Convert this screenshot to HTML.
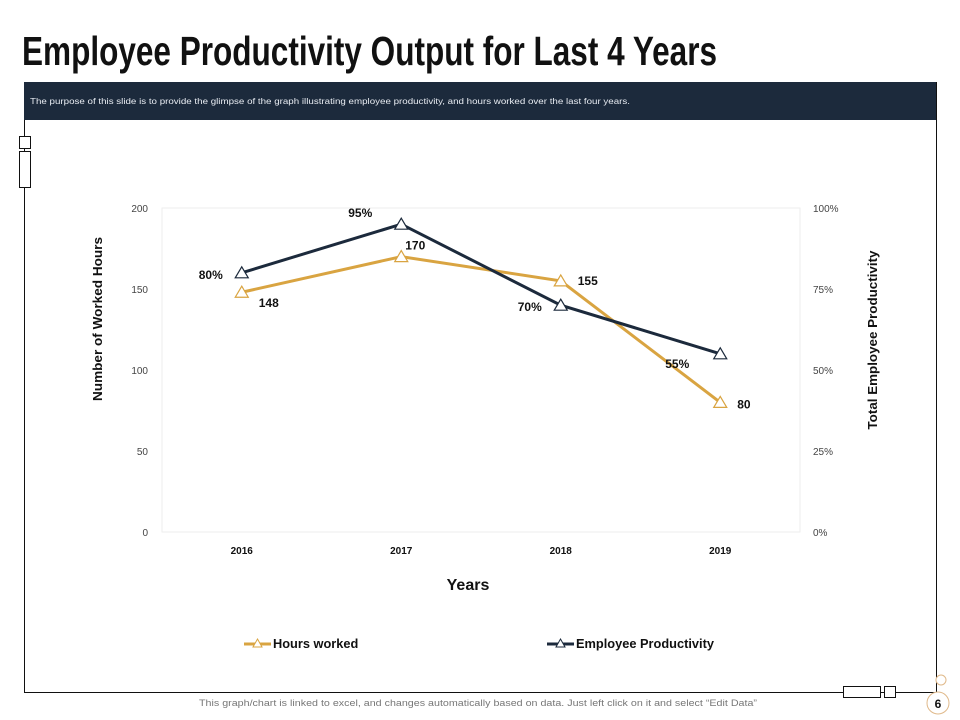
<!DOCTYPE html>
<html><head><meta charset="utf-8"><style>
body{margin:0;background:#fff;font-family:"Liberation Sans",sans-serif}
#root{position:relative;width:960px;height:720px;overflow:hidden;background:#fff}
</style></head><body>
<div id="root">
<svg width="960" height="720" id="svg">
<text x="22" y="65" font-size="41" font-weight="bold" fill="#111" textLength="695" lengthAdjust="spacingAndGlyphs">Employee Productivity Output for Last 4 Years</text>
<rect x="24" y="82" width="912" height="38" fill="#1c2a3c"/>
<text x="30" y="104" font-size="8.6" fill="#e8ecf2" textLength="600" lengthAdjust="spacingAndGlyphs">The purpose of this slide is to provide the glimpse of the graph illustrating employee productivity, and hours worked over the last four years.</text>
<g stroke="#111" stroke-width="1" fill="#fff">
<line x1="24.5" y1="120" x2="24.5" y2="692"/>
<line x1="24" y1="692.5" x2="936" y2="692.5"/>
<line x1="936.5" y1="82" x2="936.5" y2="692"/>
<rect x="19.5" y="136.5" width="11" height="12"/>
<rect x="19.5" y="151.5" width="11" height="36"/>
<rect x="843.5" y="686.5" width="37" height="11"/>
<rect x="884.5" y="686.5" width="11" height="11"/>
</g>
<circle cx="941" cy="680" r="5" fill="#fff" stroke="#e0b98a"/>
<circle cx="938" cy="703" r="11" fill="#fff" stroke="#e0b98a"/>
<text x="938" y="708" font-size="12" font-weight="bold" text-anchor="middle" fill="#111">6</text>
<text x="199" y="706" font-size="9" fill="#777" textLength="558" lengthAdjust="spacingAndGlyphs">This graph/chart is linked to excel, and changes automatically based on data. Just left click on it and select “Edit Data”</text>
<rect x="162" y="208" width="638" height="324" fill="none" stroke="#eeeeee"/>
<text transform="translate(102,319) rotate(-90)" font-size="12.5" font-weight="bold" text-anchor="middle" fill="#111" textLength="164" lengthAdjust="spacingAndGlyphs">Number of Worked Hours</text>
<text transform="translate(877,340) rotate(-90)" font-size="12.5" font-weight="bold" text-anchor="middle" fill="#111" textLength="179" lengthAdjust="spacingAndGlyphs">Total Employee Productivity</text>
<text x="468" y="590" font-size="16" font-weight="bold" text-anchor="middle" fill="#111">Years</text>
<g id="marks"></g>
</svg>
</div>
<script>
const categories=["2016","2017","2018","2019"];
const hoursWorked=[148,170,155,80];
const productivity=[80,95,70,55];
const leftTicks=[0,50,100,150,200];
const rightTicks=[0,25,50,75,100];
const hoursLabels=["148","170","155","80"];
const prodLabels=["80%","95%","70%","55%"];
const NS="http://www.w3.org/2000/svg";
const g=document.getElementById('marks');
const x0=162,x1=800,yTop=208,yBot=532;
function xs(i){return x0+(x1-x0)*(i+0.5)/categories.length;}
function yL(v){return yBot-(yBot-yTop)*v/200;}
function yR(v){return yBot-(yBot-yTop)*v/100;}
function el(t,a,txt){const e=document.createElementNS(NS,t);for(const k in a)e.setAttribute(k,a[k]);if(txt!=null)e.textContent=txt;g.appendChild(e);return e;}
leftTicks.forEach(v=>{const e=el('text',{x:148,y:yL(v)+4,'font-size':10,'text-anchor':'end',fill:'#444'},String(v));

});
rightTicks.forEach(v=>{const e=el('text',{x:813,y:yR(v)+4,'font-size':10,fill:'#444'},v+'%');

});
categories.forEach((c,i)=>{const e=el('text',{x:xs(i),y:554,'font-size':10,'font-weight':'bold','text-anchor':'middle',fill:'#111'},c);

});
function tri(cx,cy){return `M${cx},${cy-6} L${cx+6.5},${cy+5} L${cx-6.5},${cy+5} Z`;}
function series(vals,sc,col,name){
const pts=vals.map((v,i)=>xs(i)+','+sc(v)).join(' ');
const l=el('polyline',{points:pts,fill:'none',stroke:col,'stroke-width':3});


vals.forEach((v,i)=>{const p=el('path',{d:tri(xs(i),sc(v)),fill:'#fff',stroke:col,'stroke-width':1.2});

});}
series(hoursWorked,yL,'#d9a441','hours-worked');
series(productivity,yR,'#1c2a3c','employee-productivity');
const hOff=[[17,15],[4,-7],[17,4],[17,6]];
hoursWorked.forEach((v,i)=>{const e=el('text',{x:xs(i)+hOff[i][0],y:yL(v)+hOff[i][1],'font-size':12,'font-weight':'bold',fill:'#111'},hoursLabels[i]);

});
const pOff=[[-43,6],[-53,-7],[-43,6],[-55,14]];
productivity.forEach((v,i)=>{const e=el('text',{x:xs(i)+pOff[i][0],y:yR(v)+pOff[i][1],'font-size':12,'font-weight':'bold',fill:'#111'},prodLabels[i]);

});
function legend(x,col,label,name){
const l=el('line',{x1:x,y1:644,x2:x+27,y2:644,stroke:col,'stroke-width':3});


const p=el('path',{d:`M${x+13.5},639 L${x+18},647 L${x+9},647 Z`,fill:'#fff',stroke:col});


const t=el('text',{x:x+29,y:648,'font-size':12.8,'font-weight':'bold',fill:'#111'},label);

}
legend(244,'#d9a441','Hours worked','hours-worked');
legend(547,'#1c2a3c','Employee Productivity','employee-productivity');
</script>
</body></html>
